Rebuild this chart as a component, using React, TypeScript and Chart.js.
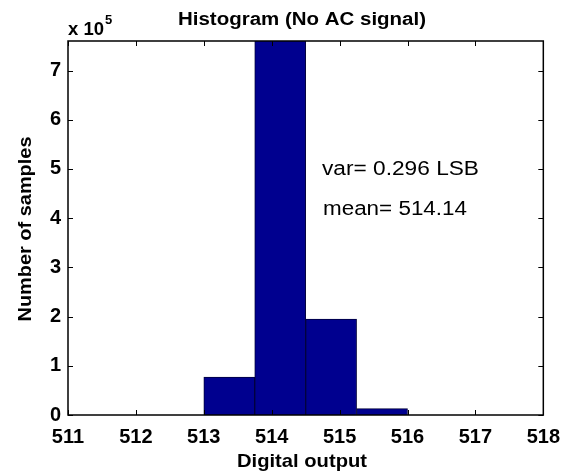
import React, { useEffect, useRef } from "react";
import { Chart, registerables } from "chart.js";

Chart.register(...registerables);

const binCenters = [513.375, 514.125, 514.875, 515.625];
const counts = [0.77, 7.9, 1.95, 0.13]; // x 10^5
const xTicks = [511, 512, 513, 514, 515, 516, 517, 518];
const yTicks = [0, 1, 2, 3, 4, 5, 6, 7];
const titleText = "Histogram (No AC signal)";
const xLabel = "Digital output";
const yLabel = "Number of samples";
const notes = ["var= 0.296 LSB", "mean= 514.14"];

const FONT = '"Liberation Sans", Arial, sans-serif';

function stretchText(ctx: any, text: string, x: number, y: number, font: string, targetW: number, align: string) {
  ctx.save();
  ctx.font = font;
  const w = ctx.measureText(text).width;
  const sx = targetW / w;
  ctx.translate(x, y);
  ctx.scale(sx, 1);
  ctx.textAlign = align;
  ctx.fillText(text, 0, 0);
  ctx.restore();
}

const decorPlugin = {
  id: "decor",
  afterDatasetsDraw(chart: any) {
    const { ctx, chartArea: a, scales } = chart;
    const xs = scales.x;
    const ys = scales.y;
    ctx.save();
    ctx.strokeStyle = "#000";
    ctx.lineWidth = 1;
    const tl = 5;
    xs.ticks.forEach((t: any) => {
      const px = Math.round(xs.getPixelForValue(t.value)) + 0.5;
      ctx.beginPath();
      ctx.moveTo(px, a.bottom);
      ctx.lineTo(px, a.bottom - tl);
      ctx.moveTo(px, a.top);
      ctx.lineTo(px, a.top + tl);
      ctx.stroke();
    });
    ys.ticks.forEach((t: any) => {
      const py = Math.round(ys.getPixelForValue(t.value)) + 0.5;
      ctx.beginPath();
      ctx.moveTo(a.left, py);
      ctx.lineTo(a.left + tl, py);
      ctx.moveTo(a.right, py);
      ctx.lineTo(a.right - tl, py);
      ctx.stroke();
    });
    ctx.lineWidth = 1.5;
    ctx.strokeRect(a.left, a.top, a.right - a.left, a.bottom - a.top);

    ctx.fillStyle = "#000";
    ctx.textBaseline = "alphabetic";
    stretchText(ctx, titleText, 302, 25, `bold 18px ${FONT}`, 248, "center");
    stretchText(ctx, xLabel, 302, 467, `bold 19px ${FONT}`, 130, "center");
    ctx.save();
    ctx.translate(31, 229);
    ctx.rotate(-Math.PI / 2);
    stretchText(ctx, yLabel, 0, 0, `bold 19px ${FONT}`, 185, "center");
    ctx.restore();
    // x 10^5
    stretchText(ctx, "x 10", 68, 35, `bold 18px ${FONT}`, 36, "left");
    ctx.font = `bold 13px ${FONT}`;
    ctx.textAlign = "left";
    ctx.fillText("5", 105, 24);
    // notes
    stretchText(ctx, notes[0], 322, 175, `20px ${FONT}`, 157, "left");
    stretchText(ctx, notes[1], 323, 215, `20px ${FONT}`, 144, "left");
    ctx.restore();
  },
};

export default function App() {
  const ref = useRef<HTMLCanvasElement>(null);
  useEffect(() => {
    const chart = new Chart(ref.current as HTMLCanvasElement, {
      type: "bar",
      data: {
        datasets: [
          {
            data: binCenters.map((x, i) => ({ x, y: counts[i] })),
            backgroundColor: "#00008f",
            borderColor: "#00003c",
            borderWidth: 1,
            barPercentage: 1,
            categoryPercentage: 1,
            clip: 0,
          } as any,
        ],
      },
      options: {
        animation: false,
        responsive: false,
        layout: { padding: { top: 41, right: 26, left: 0, bottom: 0 } },
        plugins: { legend: { display: false }, title: { display: false }, tooltip: { enabled: false } },
        scales: {
          x: {
            type: "linear",
            offset: false,
            min: 511,
            max: 518,
            afterBuildTicks: (s: any) => {
              s.ticks = xTicks.map((v) => ({ value: v }));
            },
            afterFit: (s: any) => {
              s.height = 58;
            },
            grid: { display: false, drawTicks: false, offset: false },
            border: { display: false },
            ticks: {
              color: "#000",
              font: { family: FONT, size: 20, weight: "bold" },
              padding: 10,
              maxRotation: 0,
              autoSkip: false,
            },
          },
          y: {
            type: "linear",
            min: 0,
            max: 7.6,
            afterBuildTicks: (s: any) => {
              s.ticks = yTicks.map((v) => ({ value: v }));
            },
            afterFit: (s: any) => {
              s.width = 68;
            },
            grid: { display: false, drawTicks: false },
            border: { display: false },
            ticks: {
              color: "#000",
              font: { family: FONT, size: 20, weight: "bold" },
              padding: 7,
              autoSkip: false,
            },
          },
        },
      },
      plugins: [decorPlugin],
    } as any);
    return () => chart.destroy();
  }, []);
  return (
    <div style={{ position: "fixed", left: 0, top: 0, width: 570, height: 473, background: "#fff" }}>
      <canvas ref={ref} width={570} height={473} style={{ width: 570, height: 473 }} />
    </div>
  );
}
